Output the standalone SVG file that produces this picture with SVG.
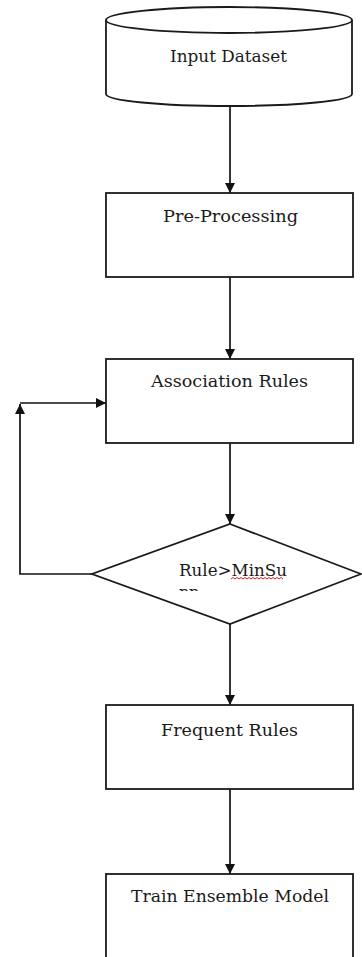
<svg xmlns="http://www.w3.org/2000/svg" width="362" height="957" viewBox="0 0 362 957">
<style>
.shape{fill:#fff;stroke:#1a1a1a;stroke-width:1.8}
.conn{fill:none;stroke:#111;stroke-width:1.7}
.lbl{font-family:"DejaVu Serif","Liberation Serif",serif;font-size:16px;fill:#1a1a1a}
</style>
<defs>
<marker id="arr" viewBox="0 0 10 10" refX="10" refY="5" markerWidth="11" markerHeight="10" markerUnits="userSpaceOnUse" orient="auto">
<path d="M0,0 L10,5 L0,10 Z" fill="#111"/>
</marker>
<clipPath id="clipPP"><rect x="150" y="584" width="80" height="7"/></clipPath>
</defs>
<rect width="362" height="957" fill="#fff"/>
<g id="connectors">
<line class="conn" x1="230" y1="106" x2="230" y2="193" marker-end="url(#arr)"/>
<line class="conn" x1="230" y1="277" x2="230" y2="359" marker-end="url(#arr)"/>
<line class="conn" x1="230" y1="443" x2="230" y2="524" marker-end="url(#arr)"/>
<line class="conn" x1="230" y1="624" x2="230" y2="705" marker-end="url(#arr)"/>
<line class="conn" x1="230" y1="789" x2="230" y2="874" marker-end="url(#arr)"/>
<polyline class="conn" points="92,574 20,574 20,404" marker-end="url(#arr)"/>
<line class="conn" x1="20" y1="403" x2="106" y2="403" marker-end="url(#arr)"/>
</g>
<g id="input-dataset">
<path class="shape" d="M106,20 L106,94 A123,12 0 0 0 352,94 L352,20"/>
<ellipse class="shape" cx="229" cy="20" rx="123" ry="13"/>
<text class="lbl" x="170" y="62" textLength="117" lengthAdjust="spacingAndGlyphs">Input Dataset</text>
</g>
<g id="pre-processing">
<rect class="shape" x="106" y="193" width="247" height="84"/>
<text class="lbl" x="163" y="222" textLength="135" lengthAdjust="spacingAndGlyphs">Pre-Processing</text>
</g>
<g id="association-rules">
<rect class="shape" x="106" y="359" width="247" height="84"/>
<text class="lbl" x="151" y="387" textLength="157" lengthAdjust="spacingAndGlyphs">Association Rules</text>
</g>
<g id="rule-minsupp">
<polygon class="shape" points="230,524 361,574 230,624 92,574"/>
<text class="lbl" x="179" y="576" textLength="108" lengthAdjust="spacingAndGlyphs">Rule&gt;MinSu</text>
<path d="M231,579 l2,-1.5 l2,1.5 l2,-1.5 l2,1.5 l2,-1.5 l2,1.5 l2,-1.5 l2,1.5 l2,-1.5 l2,1.5 l2,-1.5 l2,1.5 l2,-1.5 l2,1.5 l2,-1.5 l2,1.5 l2,-1.5 l2,1.5 l2,-1.5 l2,1.5 l2,-1.5 l2,1.5 l2,-1.5 l2,1.5 l2,-1.5 l2,1.5" fill="none" stroke="#e02020" stroke-width="1"/>
<text class="lbl" x="179" y="598" clip-path="url(#clipPP)" textLength="20" lengthAdjust="spacingAndGlyphs">pp</text>
</g>
<g id="frequent-rules">
<rect class="shape" x="106" y="705" width="247" height="84"/>
<text class="lbl" x="161" y="736" textLength="137" lengthAdjust="spacingAndGlyphs">Frequent Rules</text>
</g>
<g id="train-ensemble-model">
<rect class="shape" x="106" y="874" width="247" height="90"/>
<text class="lbl" x="131" y="902" textLength="198" lengthAdjust="spacingAndGlyphs">Train Ensemble Model</text>
</g>
</svg>
